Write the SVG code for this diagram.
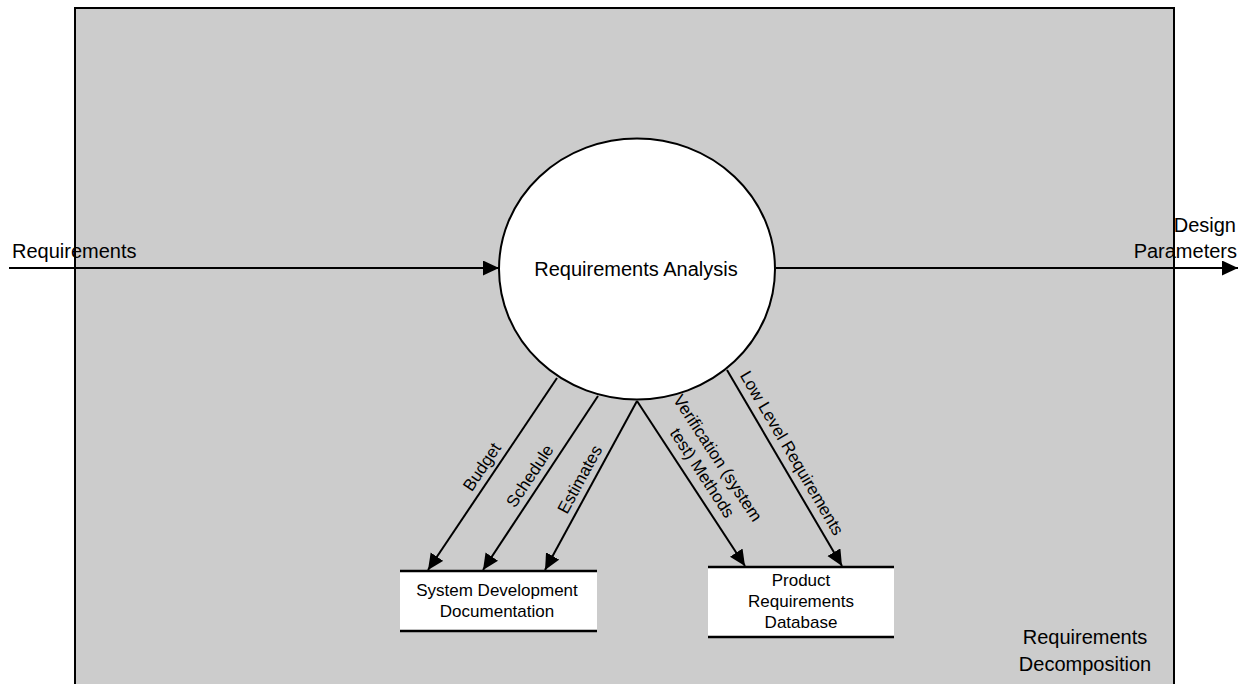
<svg xmlns="http://www.w3.org/2000/svg" width="1244" height="684" viewBox="0 0 1244 684">
  <style>
    text { font-family: "Liberation Sans", Arial, sans-serif; fill: #000; }
    .big { font-size: 20px; }
    .lbl { font-size: 17px; text-anchor: middle; }
    .flow { stroke: #000; stroke-width: 2; fill: none; marker-end: url(#head); }
    .store { fill: #fff; }
    .edge { stroke: #000; stroke-width: 2.5; }
  </style>
  <defs>
    <marker id="head" markerUnits="userSpaceOnUse" markerWidth="16" markerHeight="16" refX="16" refY="7.5" orient="auto">
      <path d="M0,0 L16,7.5 L0,15 Z" fill="#000"/>
    </marker>
  </defs>

  <!-- process boundary -->
  <g id="boundary">
    <rect x="75" y="8" width="1099" height="680" fill="#cccccc" stroke="#000" stroke-width="2"/>
    <text class="big" x="1085" y="644" text-anchor="middle">Requirements</text>
    <text class="big" x="1085" y="671" text-anchor="middle">Decomposition</text>
  </g>

  <!-- connectors -->
  <g id="connectors">
    <line class="flow" x1="9" y1="268" x2="499" y2="268"/>
    <text class="big" x="12" y="258">Requirements</text>

    <line class="flow" x1="776" y1="268" x2="1238" y2="268"/>
    <text class="big" x="1236" y="232" text-anchor="end">Design</text>
    <text class="big" x="1237" y="258" text-anchor="end">Parameters</text>

    <line class="flow" x1="557" y1="378" x2="428" y2="570"/>
    <line class="flow" x1="598" y1="396" x2="483" y2="570"/>
    <line class="flow" x1="637" y1="401" x2="545" y2="570"/>
    <line class="flow" x1="637" y1="401" x2="745" y2="566"/>
    <line class="flow" x1="727" y1="370" x2="842" y2="566"/>

    <text class="lbl" transform="translate(492.5,474) rotate(-56.1)" y="-7">Budget</text>
    <text class="lbl" transform="translate(540.5,483) rotate(-56.5)" y="-7">Schedule</text>
    <text class="lbl" transform="translate(591,485.5) rotate(-61.4)" y="-7">Estimates</text>
    <g transform="translate(690,481) rotate(56.8)">
      <text class="lbl" x="-4" y="-30">Verification (system</text>
      <text class="lbl" x="0" y="-9">test) Methods</text>
    </g>
    <text class="lbl" transform="translate(780,460) rotate(59.5)" y="-8">Low Level Requirements</text>
  </g>

  <!-- process -->
  <g id="requirements-analysis">
    <ellipse cx="637" cy="269" rx="138" ry="130.5" fill="#fff" stroke="#000" stroke-width="2"/>
    <text class="big" x="636" y="276" text-anchor="middle">Requirements Analysis</text>
  </g>

  <!-- data stores -->
  <g id="system-development-documentation">
    <rect class="store" x="400" y="571" width="197" height="60"/>
    <line class="edge" x1="400" y1="571" x2="597" y2="571"/>
    <line class="edge" x1="400" y1="631" x2="597" y2="631"/>
    <text class="lbl" x="497" y="596">System Development</text>
    <text class="lbl" x="497" y="617">Documentation</text>
  </g>

  <g id="product-requirements-database">
    <rect class="store" x="708" y="567" width="186" height="70"/>
    <line class="edge" x1="708" y1="567" x2="894" y2="567"/>
    <line class="edge" x1="708" y1="637" x2="894" y2="637"/>
    <text class="lbl" x="801" y="586">Product</text>
    <text class="lbl" x="801" y="607">Requirements</text>
    <text class="lbl" x="801" y="628">Database</text>
  </g>
</svg>
